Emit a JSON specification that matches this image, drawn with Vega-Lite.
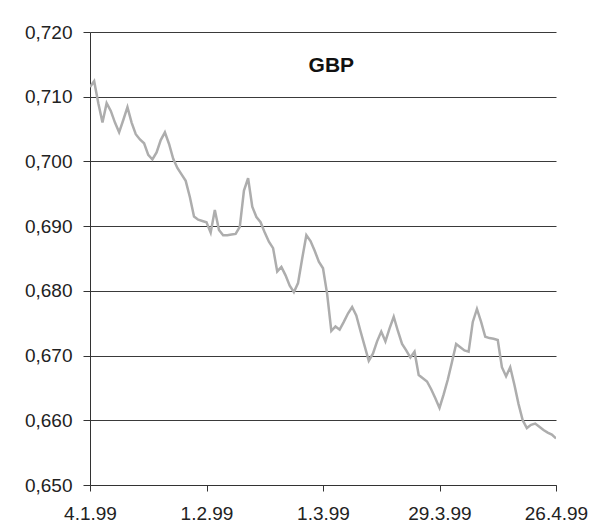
{
  "$schema": "https://vega.github.io/schema/vega-lite/v6.json",
  "autosize": {"type": "none"},
  "width": 466,
  "height": 453,
  "padding": {"left": 90, "top": 32, "right": 47, "bottom": 47},
  "background": "#ffffff",
  "config": {
    "view": {"stroke": null},
    "axis": {"labelFont": "Liberation Sans", "labelFontSize": 19, "labelColor": "#222222", "domainColor": "#333333", "tickColor": "#333333", "domainWidth": 1, "tickWidth": 1}
  },
  "layer": [
    {
      "data": {"values": [
        {"d":"1999-01-04","v":0.7115},{"d":"1999-01-05","v":0.7124},{"d":"1999-01-06","v":0.7090},{"d":"1999-01-07","v":0.7060},
        {"d":"1999-01-08","v":0.7090},{"d":"1999-01-09","v":0.7078},{"d":"1999-01-10","v":0.7060},{"d":"1999-01-11","v":0.7045},
        {"d":"1999-01-12","v":0.7064},{"d":"1999-01-13","v":0.7084},{"d":"1999-01-14","v":0.7060},{"d":"1999-01-15","v":0.7042},
        {"d":"1999-01-16","v":0.7034},{"d":"1999-01-17","v":0.7028},{"d":"1999-01-18","v":0.7010},{"d":"1999-01-19","v":0.7003},
        {"d":"1999-01-20","v":0.7014},{"d":"1999-01-21","v":0.7033},{"d":"1999-01-22","v":0.7045},{"d":"1999-01-23","v":0.7027},
        {"d":"1999-01-24","v":0.7004},{"d":"1999-01-25","v":0.6990},{"d":"1999-01-26","v":0.6980},{"d":"1999-01-27","v":0.6970},
        {"d":"1999-01-28","v":0.6945},{"d":"1999-01-29","v":0.6915},{"d":"1999-01-30","v":0.6910},{"d":"1999-01-31","v":0.6908},
        {"d":"1999-02-01","v":0.6906},{"d":"1999-02-02","v":0.6890},{"d":"1999-02-03","v":0.6925},{"d":"1999-02-04","v":0.6894},
        {"d":"1999-02-05","v":0.6886},{"d":"1999-02-06","v":0.6886},{"d":"1999-02-07","v":0.6887},{"d":"1999-02-08","v":0.6888},
        {"d":"1999-02-09","v":0.6899},{"d":"1999-02-10","v":0.6955},{"d":"1999-02-11","v":0.6974},{"d":"1999-02-12","v":0.6930},
        {"d":"1999-02-13","v":0.6914},{"d":"1999-02-14","v":0.6906},{"d":"1999-02-15","v":0.6890},{"d":"1999-02-16","v":0.6876},
        {"d":"1999-02-17","v":0.6866},{"d":"1999-02-18","v":0.6830},{"d":"1999-02-19","v":0.6837},{"d":"1999-02-20","v":0.6824},
        {"d":"1999-02-21","v":0.6808},{"d":"1999-02-22","v":0.6798},{"d":"1999-02-23","v":0.6812},{"d":"1999-02-24","v":0.6850},
        {"d":"1999-02-25","v":0.6886},{"d":"1999-02-26","v":0.6877},{"d":"1999-02-27","v":0.6862},{"d":"1999-02-28","v":0.6845},
        {"d":"1999-03-01","v":0.6835},{"d":"1999-03-02","v":0.6795},{"d":"1999-03-03","v":0.6738},{"d":"1999-03-04","v":0.6745},
        {"d":"1999-03-05","v":0.6740},{"d":"1999-03-06","v":0.6752},{"d":"1999-03-07","v":0.6765},{"d":"1999-03-08","v":0.6775},
        {"d":"1999-03-09","v":0.6762},{"d":"1999-03-10","v":0.6738},{"d":"1999-03-11","v":0.6715},{"d":"1999-03-12","v":0.6692},
        {"d":"1999-03-13","v":0.6703},{"d":"1999-03-14","v":0.6722},{"d":"1999-03-15","v":0.6737},{"d":"1999-03-16","v":0.6722},
        {"d":"1999-03-17","v":0.6742},{"d":"1999-03-18","v":0.6760},{"d":"1999-03-19","v":0.6738},{"d":"1999-03-20","v":0.6718},
        {"d":"1999-03-21","v":0.6708},{"d":"1999-03-22","v":0.6697},{"d":"1999-03-23","v":0.6706},{"d":"1999-03-24","v":0.6670},
        {"d":"1999-03-25","v":0.6665},{"d":"1999-03-26","v":0.6660},{"d":"1999-03-27","v":0.6648},{"d":"1999-03-28","v":0.6634},
        {"d":"1999-03-29","v":0.6619},{"d":"1999-03-30","v":0.6640},{"d":"1999-03-31","v":0.6663},{"d":"1999-04-01","v":0.6690},
        {"d":"1999-04-02","v":0.6718},{"d":"1999-04-03","v":0.6713},{"d":"1999-04-04","v":0.6708},{"d":"1999-04-05","v":0.6706},
        {"d":"1999-04-06","v":0.6752},{"d":"1999-04-07","v":0.6772},{"d":"1999-04-08","v":0.6752},{"d":"1999-04-09","v":0.6729},
        {"d":"1999-04-10","v":0.6727},{"d":"1999-04-11","v":0.6726},{"d":"1999-04-12","v":0.6724},{"d":"1999-04-13","v":0.6682},
        {"d":"1999-04-14","v":0.6668},{"d":"1999-04-15","v":0.6682},{"d":"1999-04-16","v":0.6655},{"d":"1999-04-17","v":0.6625},
        {"d":"1999-04-18","v":0.6600},{"d":"1999-04-19","v":0.6588},{"d":"1999-04-20","v":0.6593},{"d":"1999-04-21","v":0.6595},
        {"d":"1999-04-22","v":0.6590},{"d":"1999-04-23","v":0.6585},{"d":"1999-04-24","v":0.6581},{"d":"1999-04-25","v":0.6578},
        {"d":"1999-04-26","v":0.6572}
      ]},
      "mark": {"type": "line", "color": "#adadad", "strokeWidth": 2.5, "clip": true},
      "encoding": {
        "x": {
          "field": "d", "type": "temporal",
          "scale": {"type": "utc", "domain": [{"year":1999,"month":1,"date":4,"utc":true},{"year":1999,"month":4,"date":26,"utc":true}], "nice": false},
          "axis": {
            "title": null,
            "values": [
              {"year":1999,"month":1,"date":4,"utc":true},
              {"year":1999,"month":2,"date":1,"utc":true},
              {"year":1999,"month":3,"date":1,"utc":true},
              {"year":1999,"month":3,"date":29,"utc":true},
              {"year":1999,"month":4,"date":26,"utc":true}
            ],
            "labelExpr": "utcFormat(datum.value, '%-d.%-m.%y')",
            "grid": false,
            "tickSize": 6,
            "labelPadding": 13,
            "labelFlush": false,
            "labelOverlap": false
          }
        },
        "y": {
          "field": "v", "type": "quantitative",
          "scale": {"domain": [0.65, 0.72], "nice": false, "zero": false},
          "axis": {
            "title": null,
            "values": [0.65, 0.66, 0.67, 0.68, 0.69, 0.70, 0.71, 0.72],
            "labelExpr": "replace(format(datum.value, '.3f'), '.', ',')",
            "grid": true,
            "gridColor": "#3a3a3a",
            "gridWidth": 1,
            "gridOpacity": 1,
            "tickSize": 7,
            "labelPadding": 11
          }
        }
      }
    },
    {
      "data": {"values": [{"d": "1999-03-03", "v": 0.7147, "label": "GBP"}]},
      "mark": {"type": "text", "font": "Liberation Sans", "fontSize": 21, "fontWeight": "bold", "color": "#111111", "align": "center", "baseline": "middle"},
      "encoding": {
        "x": {"field": "d", "type": "temporal"},
        "y": {"field": "v", "type": "quantitative"},
        "text": {"field": "label"}
      }
    }
  ]
}
